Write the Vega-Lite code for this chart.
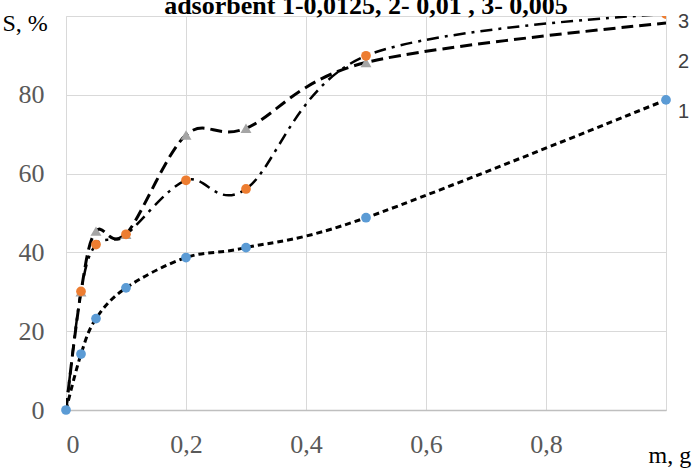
{
  "$schema": "https://vega.github.io/schema/vega-lite/v6.json",
  "width": 600,
  "height": 394,
  "autosize": "none",
  "padding": {"left": 66, "right": 26, "top": 16, "bottom": 64},
  "background": "white",
  "title": {
    "text": "adsorbent 1-0,0125, 2- 0,01 , 3- 0,005",
    "font": "Liberation Serif",
    "fontSize": 26,
    "fontWeight": "bold",
    "color": "#000000",
    "anchor": "middle",
    "baseline": "alphabetic",
    "offset": 0,
    "dy": 29
  },
  "config": {
    "view": {"stroke": "#d9d9d9", "strokeWidth": 1},
    "axis": {
      "labelFont": "Liberation Serif",
      "titleFont": "Liberation Serif",
      "labelColor": "#595959",
      "titleColor": "#000000",
      "gridColor": "#d9d9d9",
      "gridWidth": 1,
      "ticks": false
    }
  },
  "datasets": {
    "pts": [
      {"s": "1", "x": 0, "y": 0},
      {"s": "1", "x": 0.025, "y": 14.2},
      {"s": "1", "x": 0.05, "y": 23.2},
      {"s": "1", "x": 0.1, "y": 31},
      {"s": "1", "x": 0.2, "y": 38.7},
      {"s": "1", "x": 0.3, "y": 41.2},
      {"s": "1", "x": 0.5, "y": 48.8},
      {"s": "1", "x": 1.0, "y": 78.7},
      {"s": "2", "x": 0, "y": 0},
      {"s": "2", "x": 0.025, "y": 30},
      {"s": "2", "x": 0.05, "y": 45.4},
      {"s": "2", "x": 0.1, "y": 44.6},
      {"s": "2", "x": 0.2, "y": 69.8},
      {"s": "2", "x": 0.3, "y": 71.5},
      {"s": "2", "x": 0.5, "y": 88.2},
      {"s": "2", "x": 1.0, "y": 98.2},
      {"s": "3", "x": 0, "y": 0},
      {"s": "3", "x": 0.025, "y": 30.1},
      {"s": "3", "x": 0.05, "y": 42},
      {"s": "3", "x": 0.1, "y": 44.6},
      {"s": "3", "x": 0.2, "y": 58.3},
      {"s": "3", "x": 0.3, "y": 56.1},
      {"s": "3", "x": 0.5, "y": 89.9},
      {"s": "3", "x": 1.0, "y": 100.5}
    ],
    "labels": [
      {"s": "3", "x": 1.0, "y": 98.6},
      {"s": "2", "x": 1.0, "y": 88.3},
      {"s": "1", "x": 1.0, "y": 75.6}
    ]
  },
  "encoding": {
    "x": {
      "field": "x",
      "type": "quantitative",
      "scale": {"domain": [0, 1], "nice": false, "zero": false},
      "axis": {
        "values": [0, 0.2, 0.4, 0.6, 0.8, 1],
        "labelExpr": "datum.value >= 1 ? '' : replace(format(datum.value, '.1~f'), '.', ',')",
        "labelFontSize": 26,
        "labelBaseline": "alphabetic",
        "labelPadding": 42,
        "domainColor": "#bfbfbf",
        "domainWidth": 1.5,
        "title": "m, g",
        "titleFontSize": 24,
        "titleFontWeight": "normal",
        "titleAlign": "left",
        "titleBaseline": "alphabetic",
        "titleAnchor": "start",
        "titleX": 582,
        "titleY": 52
      }
    },
    "y": {
      "field": "y",
      "type": "quantitative",
      "scale": {"domain": [0, 100], "nice": false, "zero": false},
      "axis": {
        "values": [0, 20, 40, 60, 80],
        "labelFontSize": 26,
        "labelBaseline": "middle",
        "labelPadding": 22,
        "domain": false,
        "title": "S, %",
        "titleFontSize": 24,
        "titleFontWeight": "normal",
        "titleAngle": 0,
        "titleAlign": "left",
        "titleBaseline": "alphabetic",
        "titleX": -64,
        "titleY": 14
      }
    }
  },
  "layer": [
    {
      "data": {"name": "pts"},
      "transform": [{"filter": "datum.s == '1'"}],
      "mark": {"type": "line", "interpolate": "cardinal", "tension": 0, "color": "#000000", "strokeWidth": 3, "strokeDash": [6, 4], "clip": true}
    },
    {
      "data": {"name": "pts"},
      "transform": [{"filter": "datum.s == '2'"}],
      "mark": {"type": "line", "interpolate": "cardinal", "tension": 0, "color": "#000000", "strokeWidth": 3, "strokeDash": [12, 6], "clip": true}
    },
    {
      "data": {"name": "pts"},
      "transform": [{"filter": "datum.s == '3'"}],
      "mark": {"type": "line", "interpolate": "cardinal", "tension": 0, "color": "#000000", "strokeWidth": 2.5, "strokeDash": [12, 6, 3, 6], "clip": true}
    },
    {
      "data": {"name": "pts"},
      "transform": [{"filter": "datum.s == '2' && datum.x > 0 && datum.x < 1"}],
      "mark": {"type": "point", "shape": "triangle-up", "filled": true, "opacity": 1, "size": 120, "color": "#a5a5a5", "clip": true}
    },
    {
      "data": {"name": "pts"},
      "transform": [{"filter": "datum.s == '3' && datum.x > 0"}],
      "mark": {"type": "point", "shape": "circle", "filled": true, "opacity": 1, "size": 95, "color": "#ed7d31", "clip": true}
    },
    {
      "data": {"name": "pts"},
      "transform": [{"filter": "datum.s == '1'"}],
      "mark": {"type": "point", "shape": "circle", "filled": true, "opacity": 1, "size": 95, "color": "#5b9bd5", "clip": false}
    },
    {
      "data": {"name": "labels"},
      "mark": {"type": "text", "font": "Liberation Sans", "fontSize": 20, "color": "#404040", "align": "left", "baseline": "middle", "dx": 12},
      "encoding": {"text": {"field": "s"}}
    }
  ]
}
